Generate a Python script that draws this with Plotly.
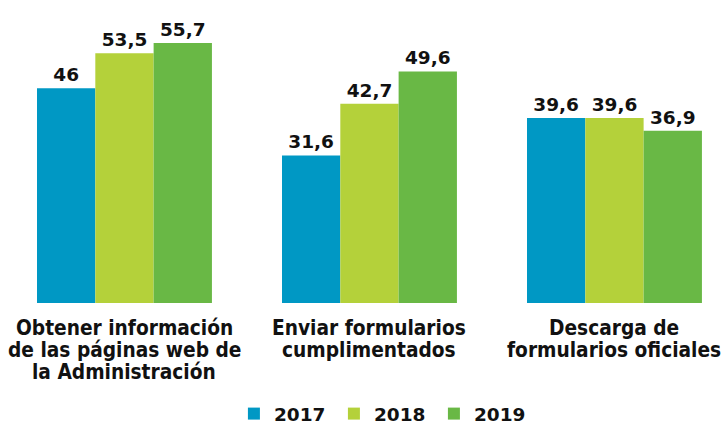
import plotly.graph_objects as go

categories = [["Obtener información", "de las páginas web de", "la Administración"],
              ["Enviar formularios", "cumplimentados"],
              ["Descarga de", "formularios oficiales"]]
years = ["2017", "2018", "2019"]
values_2017 = [46, 31.6, 39.6]
values_2018 = [53.5, 42.7, 39.6]
values_2019 = [55.7, 49.6, 36.9]
colors = ["#0098C4", "#B4D13A", "#69B845"]

series = [values_2017, values_2018, values_2019]
xpos = list(range(len(categories)))

fig = go.Figure()
for y, vals, c in zip(years, series, colors):
    fig.add_trace(go.Bar(
        name=y, x=xpos, y=vals, marker=dict(color=c, line=dict(width=0)),
        text=[f"{v:g}".replace(".", ",") for v in vals],
        textposition="outside", cliponaxis=False, constraintext="none",
        textfont=dict(family="DejaVu Sans", size=18.5, color="#111111", weight="bold"),
    ))

# category labels, one annotation per text line (tight line spacing)
line_y = [-0.0825, -0.155, -0.227]
for i, lines in enumerate(categories):
    for j, ln in enumerate(lines):
        fig.add_annotation(x=i, xref="x", y=line_y[j], yref="paper", text=ln,
                           showarrow=False, xanchor="center", yanchor="middle",
                           font=dict(family="DejaVu Sans Condensed", size=20.7,
                                     color="#111111", weight="bold"))

fig.update_layout(
    width=723, height=426,
    margin=dict(l=0, r=0, t=0, b=123, autoexpand=False),
    paper_bgcolor="white", plot_bgcolor="white",
    barmode="group", bargap=0.286, bargroupgap=0,
    showlegend=True,
    legend=dict(orientation="h", x=0.531, xanchor="center", xref="container",
                y=0.028, yanchor="middle", yref="container",
                font=dict(family="DejaVu Sans", size=18.5, color="#111111", weight="bold"),
                entrywidth=55, entrywidthmode="pixels", traceorder="normal"),
    xaxis=dict(range=[-0.508, 2.443], automargin=False, showticklabels=False,
               showgrid=False, zeroline=False, showline=False, ticks=""),
    yaxis=dict(range=[0, 64.9], visible=False, automargin=False,
               showgrid=False, zeroline=False),
)

fig.write_html("out.html", config={"displayModeBar": False},
               post_script="document.body.style.margin='0';")
